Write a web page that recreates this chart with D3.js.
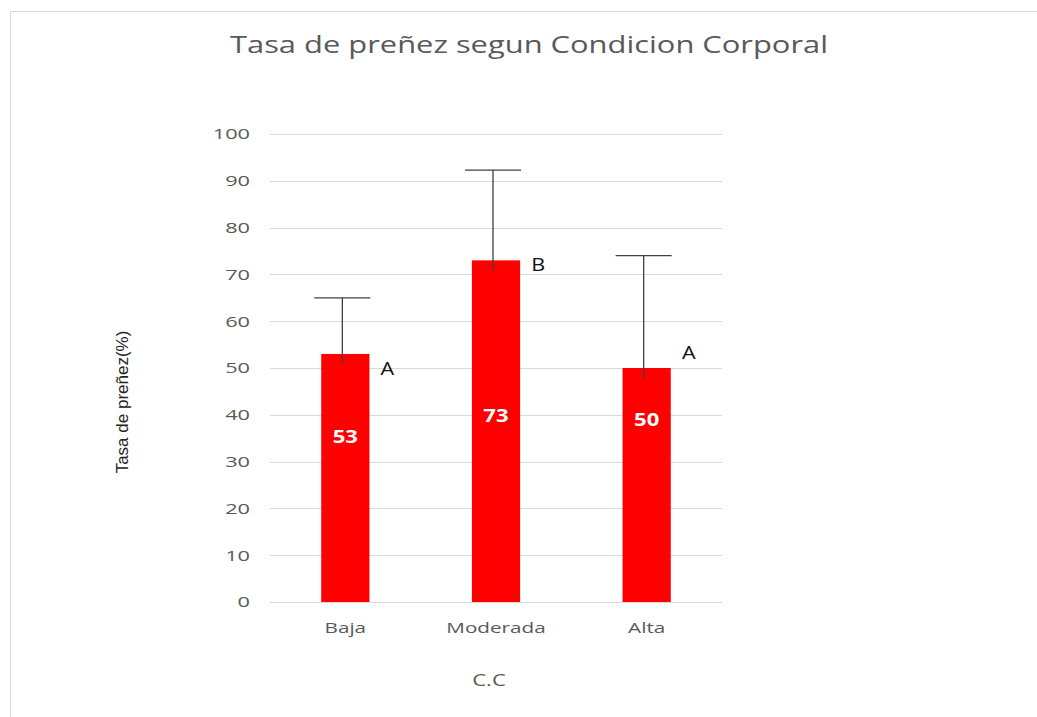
<!DOCTYPE html>
<html>
<head>
<meta charset="utf-8">
<script src="https://cdn.jsdelivr.net/npm/d3@7"></script>
<style>
  body { margin: 0; background: #fff; }
  svg { display: block; }
</style>
</head>
<body>
<svg width="1037" height="717"></svg>
<script>
// data
const categories = ["Baja", "Moderada", "Alta"];
const values = [53, 73, 50];
const errorTop = [65, 92.3, 74];
const letters = ["A", "B", "A"];
const letterAt = [49.8, 72, 53.2];   // y value where the letter sits
const valueLabelAt = [35.3, 39.8, 38.8]; // y value where the white number sits
const yTicks = [0, 10, 20, 30, 40, 50, 60, 70, 80, 90, 100];

const svg = d3.select("svg");
const width = 1037, height = 717;
const margin = { top: 134, right: 315, bottom: 115, left: 270 };
const grey = "#595959";
const font = "'Open Sans', sans-serif";

// chart frame
svg.append("rect")
  .attr("x", 10.5).attr("y", 11.5)
  .attr("width", 1040).attr("height", 720)
  .attr("fill", "none")
  .attr("stroke", "#d9d9d9");

const x = d3.scaleBand()
  .domain(categories)
  .range([margin.left, width - margin.right])
  .paddingInner(0.68)
  .paddingOuter(0.34);

const y = d3.scaleLinear()
  .domain([0, 100])
  .range([height - margin.bottom, margin.top]);

// gridlines
svg.append("g")
  .selectAll("line")
  .data(yTicks)
  .enter()
  .append("line")
  .attr("x1", margin.left)
  .attr("x2", width - margin.right)
  .attr("y1", (d) => Math.round(y(d)) + 0.5)
  .attr("y2", (d) => Math.round(y(d)) + 0.5)
  .attr("stroke", "#d9d9d9")
  .attr("stroke-width", 1);

// y axis labels (the source picture is stretched sideways)
const yAxis = svg.append("g")
  .attr("transform", `translate(${margin.left - 20},0)`)
  .call(d3.axisLeft(y).tickValues(yTicks).tickSize(0).tickPadding(0));
yAxis.select(".domain").remove();
yAxis.selectAll(".tick text")
  .attr("fill", grey)
  .attr("transform", "scale(1.45,1)")
  .style("font-family", font)
  .style("font-size", "15px");

// x axis labels
const xAxis = svg.append("g")
  .attr("transform", `translate(0,${height - margin.bottom + 14})`)
  .call(d3.axisBottom(x).tickSize(0).tickPadding(6));
xAxis.select(".domain").remove();
xAxis.selectAll(".tick text")
  .attr("fill", grey)
  .attr("transform", "scale(1.38,1)")
  .style("font-family", font)
  .style("font-size", "15px");

// bars
svg.append("g")
  .selectAll("rect")
  .data(values)
  .enter()
  .append("rect")
  .attr("x", (d, i) => x(categories[i]))
  .attr("y", (d) => y(d))
  .attr("width", x.bandwidth())
  .attr("height", (d) => y(0) - y(d))
  .attr("fill", "#ff0000");

// error bars (upper only)
const err = svg.append("g").attr("stroke", "#404040").attr("stroke-width", 1.3);
values.forEach((v, i) => {
  const cx = x(categories[i]) + x.bandwidth() / 2 - 3;
  err.append("line")
    .attr("x1", cx).attr("x2", cx)
    .attr("y1", y(v) + 10).attr("y2", y(errorTop[i]));
  err.append("line")
    .attr("x1", cx - 28).attr("x2", cx + 28)
    .attr("y1", y(errorTop[i])).attr("y2", y(errorTop[i]));
});

// value labels inside bars
svg.append("g")
  .selectAll("text")
  .data(values)
  .enter()
  .append("text")
  .attr("transform", (d, i) =>
    `translate(${x(categories[i]) + x.bandwidth() / 2},${y(valueLabelAt[i])}) scale(1.3,1)`)
  .attr("dy", "0.35em")
  .attr("text-anchor", "middle")
  .attr("fill", "#fff")
  .style("font-family", font)
  .style("font-weight", "bold")
  .style("font-size", "17px")
  .text((d) => d);

// significance letters
svg.append("g")
  .selectAll("text")
  .data(letters)
  .enter()
  .append("text")
  .attr("transform", (d, i) =>
    `translate(${x(categories[i]) + x.bandwidth() + 18},${y(letterAt[i])}) scale(1.2,1)`)
  .attr("dy", "0.35em")
  .attr("text-anchor", "middle")
  .attr("fill", "#111")
  .style("font-family", font)
  .style("font-size", "18px")
  .text((d) => d);

// title
svg.append("text")
  .attr("x", 529)
  .attr("y", 53)
  .attr("text-anchor", "middle")
  .attr("fill", grey)
  .attr("textLength", 598)
  .attr("lengthAdjust", "spacingAndGlyphs")
  .style("font-family", font)
  .style("font-size", "24px")
  .text("Tasa de preñez segun Condicion Corporal");

// y axis title
svg.append("text")
  .attr("transform", "translate(128,402) rotate(-90)")
  .attr("text-anchor", "middle")
  .attr("fill", "#222")
  .style("font-family", "'Liberation Sans Narrow', 'Liberation Sans', sans-serif")
  .style("font-size", "17px")
  .text("Tasa de preñez(%)");

// x axis title
svg.append("text")
  .attr("transform", "translate(489,686) scale(1.3,1)")
  .attr("text-anchor", "middle")
  .attr("fill", grey)
  .style("font-family", font)
  .style("font-size", "17px")
  .text("C.C");
</script>
</body>
</html>
